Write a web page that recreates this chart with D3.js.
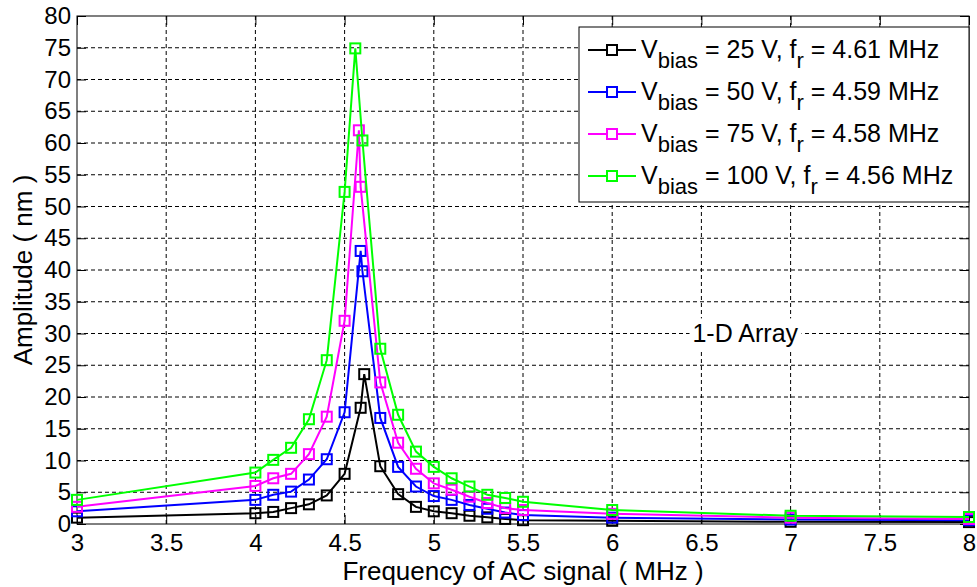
<!DOCTYPE html>
<meta charset="utf-8">
<style>
    body { margin: 0; background: #fff; }
    text { font-family: "Liberation Sans", Arial, sans-serif; fill: #000; }
    .grid line { stroke: #000; stroke-width: 1; stroke-dasharray: 4,3; }
</style>
<svg></svg>
<script src="https://d3js.org/d3.v7.min.js"></script>
<script>

    // frequencies (MHz) and amplitudes (nm)
    var freq25  = [3, 4, 4.1, 4.2, 4.3, 4.4, 4.5, 4.59, 4.61, 4.7, 4.8, 4.9, 5, 5.1, 5.2, 5.3, 5.4, 5.5, 6, 7, 8];
    var amp25   = [1.0, 1.7, 1.9, 2.5, 3.1, 4.5, 7.9, 18.3, 23.6, 9.1, 4.7, 2.7, 2.0, 1.7, 1.3, 1.05, 0.8, 0.6, 0.5, 0.35, 0.3];
    var freq50  = [3, 4, 4.1, 4.2, 4.3, 4.4, 4.5, 4.59, 4.6, 4.7, 4.8, 4.9, 5, 5.1, 5.2, 5.3, 5.4, 5.5, 6, 7, 8];
    var amp50   = [2.0, 3.8, 4.6, 5.1, 7.0, 10.2, 17.6, 43.0, 39.8, 16.7, 9.0, 5.9, 4.4, 3.8, 3.0, 2.4, 1.8, 1.4, 1.0, 0.7, 0.6];
    var freq75  = [3, 4, 4.1, 4.2, 4.3, 4.4, 4.5, 4.58, 4.59, 4.7, 4.8, 4.9, 5, 5.1, 5.2, 5.3, 5.4, 5.5, 6, 7, 8];
    var amp75   = [2.7, 6.0, 7.2, 7.9, 11.0, 16.9, 32.0, 62.0, 53.1, 22.3, 12.8, 8.7, 6.4, 5.4, 4.3, 3.3, 2.5, 2.2, 1.6, 1.0, 0.8];
    var freq100 = [3, 4, 4.1, 4.2, 4.3, 4.4, 4.5, 4.56, 4.6, 4.7, 4.8, 4.9, 5, 5.1, 5.2, 5.3, 5.4, 5.5, 6, 7, 8];
    var amp100  = [3.8, 8.1, 10.1, 12.0, 16.5, 25.8, 52.3, 74.9, 60.4, 27.6, 17.2, 11.4, 9.0, 7.2, 5.9, 4.6, 4.1, 3.5, 2.2, 1.3, 1.1];

    var seriesNames  = ["25 V", "50 V", "75 V", "100 V"];
    var resonances   = ["4.61", "4.59", "4.58", "4.56"];
    var seriesColors = ["#000000", "#0000ff", "#ff00ff", "#00ff00"];
    var xTicks = [3, 3.5, 4, 4.5, 5, 5.5, 6, 6.5, 7, 7.5, 8];
    var yTicks = d3.range(0, 81, 5);

    var series = [
        { x: freq25, y: amp25 },
        { x: freq50, y: amp50 },
        { x: freq75, y: amp75 },
        { x: freq100, y: amp100 }
    ];

    var width = 977,
        height = 587,
        margin = { top: 16, right: 8, bottom: 63, left: 77 };

    var svg = d3.select("svg")
        .attr("width", width)
        .attr("height", height);

    var w = width - margin.left - margin.right,
        h = height - margin.top - margin.bottom;

    var g = svg.append("g").attr("transform", "translate(" + margin.left + "," + margin.top + ")");

    var x = d3.scaleLinear().domain([3, 8]).range([0, w]);
    var y = d3.scaleLinear().domain([0, 80]).range([h, 0]);

    // dotted grid
    var grid = g.append("g").attr("class", "grid");
    grid.selectAll(".gx").data(xTicks.slice(1, -1)).enter().append("line")
        .attr("x1", function (d) { return x(d); }).attr("x2", function (d) { return x(d); })
        .attr("y1", 0).attr("y2", h);
    grid.selectAll(".gy").data(yTicks.slice(1, -1)).enter().append("line")
        .attr("y1", function (d) { return y(d); }).attr("y2", function (d) { return y(d); })
        .attr("x1", 0).attr("x2", w);

    // axes with inward ticks
    var fmt = d3.format("~g");
    var xAxis = g.append("g").attr("transform", "translate(0," + h + ")")
        .call(d3.axisBottom(x).tickValues(xTicks).tickFormat(fmt).tickSizeInner(-9).tickSizeOuter(0).tickPadding(10));
    var yAxis = g.append("g")
        .call(d3.axisLeft(y).tickValues(yTicks).tickSizeInner(-9).tickSizeOuter(0).tickPadding(6));
    g.append("g")
        .call(d3.axisTop(x).tickValues(xTicks).tickSizeInner(-9).tickSizeOuter(0).tickFormat(""));
    g.append("g").attr("transform", "translate(" + w + ",0)")
        .call(d3.axisRight(y).tickValues(yTicks).tickSizeInner(-9).tickSizeOuter(0).tickFormat(""));

    g.selectAll(".domain").remove();
    g.selectAll(".tick line").attr("stroke", "#000");
    [xAxis, yAxis].forEach(function (a) {
        a.selectAll("text").style("font-size", "24px").style("font-family", "Liberation Sans, Arial, sans-serif");
    });
    xAxis.selectAll("text").attr("dy", "0.71em");

    g.append("rect").attr("width", w).attr("height", h)
        .attr("fill", "none").attr("stroke", "#000").attr("stroke-width", 1);

    // series
    var line = d3.line()
        .x(function (d) { return x(d[0]); })
        .y(function (d) { return y(d[1]); });

    series.forEach(function (s, i) {
        var pts = s.x.map(function (v, j) { return [v, s.y[j]]; });
        g.append("path").datum(pts)
            .attr("d", line)
            .attr("fill", "none")
            .attr("stroke", seriesColors[i])
            .attr("stroke-width", 2);
        g.selectAll(".m" + i).data(pts).enter().append("rect")
            .attr("x", function (d) { return x(d[0]) - 5; })
            .attr("y", function (d) { return y(d[1]) - 5; })
            .attr("width", 10).attr("height", 10)
            .attr("fill", "none")
            .attr("stroke", seriesColors[i])
            .attr("stroke-width", 2);
    });

    // annotation with white backing, like the original text box
    var note = g.append("text")
        .attr("x", x(6.45)).attr("y", y(28.6))
        .style("font-size", "25px")
        .text("1-D Array");
    var bb = note.node().getBBox();
    g.insert("rect", function () { return note.node(); })
        .attr("x", bb.x - 3).attr("y", bb.y - 1)
        .attr("width", bb.width + 6).attr("height", bb.height + 3)
        .attr("fill", "#fff");

    // legend
    var lg = svg.append("g").attr("transform", "translate(579,27)");
    lg.append("rect").attr("width", 390).attr("height", 175)
        .attr("fill", "#fff").attr("stroke", "#000").attr("stroke-width", 1);

    seriesNames.forEach(function (name, i) {
        var cy = 23 + i * 42;
        lg.append("line").attr("x1", 9).attr("x2", 57).attr("y1", cy).attr("y2", cy)
            .attr("stroke", seriesColors[i]).attr("stroke-width", 2);
        lg.append("rect").attr("x", 28).attr("y", cy - 5).attr("width", 10).attr("height", 10)
            .attr("fill", "#fff").attr("stroke", seriesColors[i]).attr("stroke-width", 2);
        var t = lg.append("text").attr("x", 62).attr("y", cy + 8).style("font-size", "25px");
        t.append("tspan").text("V");
        t.append("tspan").attr("dy", 10).style("font-size", "22px").text("bias");
        t.append("tspan").attr("dy", -10).text(" = " + name + ", f");
        t.append("tspan").attr("dy", 10).style("font-size", "22px").text("r");
        t.append("tspan").attr("dy", -10).text(" = " + resonances[i] + " MHz");
    });

    // axis titles
    svg.append("text")
        .attr("x", margin.left + w / 2).attr("y", 580)
        .attr("text-anchor", "middle")
        .style("font-size", "26px")
        .text("Frequency of AC signal ( MHz )");

    svg.append("text")
        .attr("transform", "translate(32," + (margin.top + h / 2) + ") rotate(-90)")
        .attr("text-anchor", "middle")
        .style("font-size", "26px")
        .text("Amplitude ( nm )");

</script>
